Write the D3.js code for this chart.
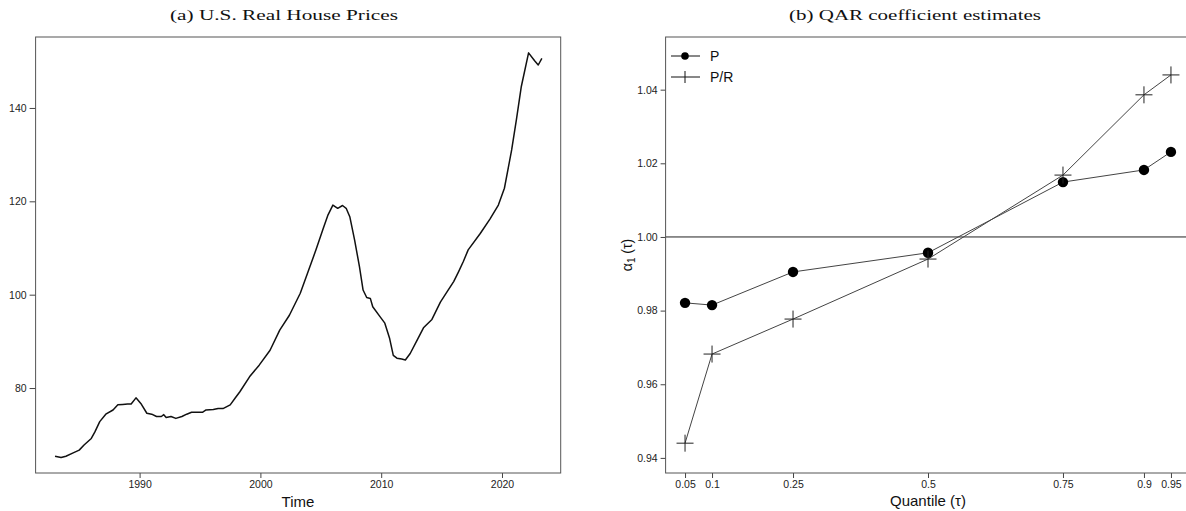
<!DOCTYPE html>
<html>
<head>
<meta charset="utf-8">
<script src="https://cdn.jsdelivr.net/npm/d3@7"></script>
<style>
  body { margin: 0; background: #fff; }
  svg { display: block; }
  .tick text { font-family: "Liberation Sans", Arial, sans-serif; font-size: 10.5px; fill: #222; }
  .tick line { stroke: #444; }
</style>
</head>
<body>
<div id="chart"></div>
<script>
// (a) real house price index
var years = [1983.0, 1983.5, 1983.9, 1984.5, 1985.0, 1985.4, 1986.0, 1986.3, 1986.7, 1987.2,
  1987.8, 1988.2, 1988.6, 1989.0, 1989.3, 1989.7, 1990.1, 1990.6, 1991.0, 1991.4,
  1991.8, 1992.0, 1992.2, 1992.6, 1993.0, 1993.5, 1993.9, 1994.3, 1995.2, 1995.5,
  1996.1, 1996.5, 1996.9, 1997.5, 1997.9, 1998.3, 1999.1, 1999.9, 2000.8, 2001.6,
  2002.4, 2003.3, 2003.9, 2004.6, 2005.2, 2005.6, 2006.0, 2006.4, 2006.8, 2007.1,
  2007.4, 2007.8, 2008.2, 2008.5, 2008.8, 2009.1, 2009.3, 2009.9, 2010.3, 2010.7,
  2011.0, 2011.3, 2011.7, 2012.0, 2012.4, 2012.9, 2013.5, 2014.2, 2014.9, 2015.5,
  2016.0, 2016.4, 2016.8, 2017.2, 2018.2, 2019.0, 2019.7, 2020.2, 2020.8, 2021.2,
  2021.6, 2022.2, 2022.7, 2023.0, 2023.3];
var prices = [65.4, 65.1, 65.4, 66.1, 66.7, 67.8, 69.2, 70.6, 72.8, 74.4,
  75.3, 76.4, 76.5, 76.6, 76.6, 77.9, 76.7, 74.6, 74.4, 73.9,
  73.9, 74.3, 73.7, 73.9, 73.5, 73.9, 74.4, 74.8, 74.8, 75.3,
  75.4, 75.6, 75.6, 76.4, 77.8, 79.2, 82.4, 84.9, 88.1, 92.4,
  95.6, 100.3, 104.6, 109.6, 114.2, 117.1, 119.2, 118.5, 119.1, 118.5,
  116.7, 111.7, 106.0, 101.0, 99.4, 99.2, 97.4, 95.3, 93.9, 90.6,
  87.0, 86.4, 86.2, 86.0, 87.4, 89.9, 92.9, 94.7, 98.4, 100.8,
  102.8, 104.9, 107.1, 109.6, 113.1, 116.2, 119.2, 122.8, 131.0, 137.6,
  144.6, 151.8, 150.1, 149.2, 150.6];
var yearTicks = [1990, 2000, 2010, 2020];
var priceTicks = [80, 100, 120, 140];

// (b) QAR alpha_1 estimates by quantile
var quantiles = [0.05, 0.1, 0.25, 0.5, 0.75, 0.9, 0.95];
var quantileLabels = ["0.05", "0.1", "0.25", "0.5", "0.75", "0.9", "0.95"];
var alphaP = [0.9821, 0.9815, 0.9905, 0.9957, 1.0149, 1.0182, 1.0231];
var alphaPR = [0.9440, 0.9682, 0.9777, 0.9940, 1.0168, 1.0386, 1.0440];
var alphaTicks = [0.94, 0.96, 0.98, 1.00, 1.02, 1.04];

var W = 1186, H = 511;
var svg = d3.select("#chart").append("svg").attr("width", W).attr("height", H);
var sans = "'Liberation Sans', Arial, sans-serif";
var serif = "'Liberation Serif', 'Times New Roman', serif";

// ---------- panel (a) ----------
var xa = d3.scaleLinear().domain([1981.39, 2024.86]).range([35.6, 560.7]);
var ya = d3.scaleLinear().domain([61.8, 155.2]).range([473, 37]);

var ga = svg.append("g");
ga.append("g").attr("transform", "translate(0,473)")
  .call(d3.axisBottom(xa).tickValues(yearTicks).tickFormat(d3.format("d")).tickSize(5).tickPadding(3))
  .call(function (g) { g.select(".domain").remove(); });
ga.append("g").attr("transform", "translate(35.6,0)")
  .call(d3.axisLeft(ya).tickValues(priceTicks).tickSize(6).tickPadding(3))
  .call(function (g) { g.select(".domain").remove(); });

ga.append("path")
  .datum(d3.range(years.length))
  .attr("fill", "none").attr("stroke", "#111").attr("stroke-width", 1.5)
  .attr("stroke-linejoin", "round")
  .attr("d", d3.line().x(function (i) { return xa(years[i]); }).y(function (i) { return ya(prices[i]); }));

ga.append("rect").attr("x", 35.6).attr("y", 37).attr("width", 560.7 - 35.6).attr("height", 473 - 37)
  .attr("fill", "none").attr("stroke", "#555").attr("stroke-width", 1);

ga.append("text").attr("x", 284).attr("y", 20).attr("text-anchor", "middle")
  .attr("font-family", serif).attr("font-size", 15).attr("fill", "#111")
  .attr("textLength", 228).attr("lengthAdjust", "spacingAndGlyphs")
  .text("(a) U.S. Real House Prices");
ga.append("text").attr("x", 298).attr("y", 507).attr("text-anchor", "middle")
  .attr("font-family", sans).attr("font-size", 15).attr("fill", "#111").text("Time");

// ---------- panel (b) ----------
var xb = d3.scaleLinear().domain([0.014, 0.986]).range([665.6, 1190.4]);
var yb = d3.scaleLinear().domain([0.9359, 1.0543]).range([473, 37]);

var gb = svg.append("g");
gb.append("g").attr("transform", "translate(0,473)")
  .call(d3.axisBottom(xb).tickValues(quantiles).tickFormat(function (d, i) { return quantileLabels[i]; }).tickSize(5).tickPadding(3))
  .call(function (g) { g.select(".domain").remove(); });
gb.append("g").attr("transform", "translate(665.6,0)")
  .call(d3.axisLeft(yb).tickValues(alphaTicks).tickFormat(d3.format(".2f")).tickSize(5).tickPadding(3))
  .call(function (g) { g.select(".domain").remove(); });

gb.append("line").attr("x1", 665.6).attr("x2", 1190).attr("y1", yb(1)).attr("y2", yb(1))
  .attr("stroke", "#222").attr("stroke-width", 1);

var lineB = function (vals) {
  return d3.line().x(function (i) { return xb(quantiles[i]); }).y(function (i) { return yb(vals[i]); })(d3.range(quantiles.length));
};
gb.append("path").attr("d", lineB(alphaP)).attr("fill", "none").attr("stroke", "#444").attr("stroke-width", 1);
gb.append("path").attr("d", lineB(alphaPR)).attr("fill", "none").attr("stroke", "#444").attr("stroke-width", 1);

gb.selectAll("circle.p").data(alphaP).enter().append("circle").attr("class", "p")
  .attr("cx", function (d, i) { return xb(quantiles[i]); }).attr("cy", function (d) { return yb(d); })
  .attr("r", 5.2).attr("fill", "#000");

var plus = function (g, cx, cy, s) {
  g.append("path").attr("d", "M" + (cx - s) + "," + cy + "H" + (cx + s) + "M" + cx + "," + (cy - s) + "V" + (cy + s))
    .attr("stroke", "#222").attr("stroke-width", 1).attr("fill", "none");
};
alphaPR.forEach(function (d, i) { plus(gb, xb(quantiles[i]), yb(d), 8.5); });

gb.append("rect").attr("x", 665.6).attr("y", 37).attr("width", 1190 - 665.6).attr("height", 473 - 37)
  .attr("fill", "none").attr("stroke", "#555").attr("stroke-width", 1);

// legend
var leg = gb.append("g");
leg.append("line").attr("x1", 671).attr("x2", 700).attr("y1", 56).attr("y2", 56).attr("stroke", "#111");
leg.append("circle").attr("cx", 685).attr("cy", 56).attr("r", 3.8).attr("fill", "#000");
leg.append("text").attr("x", 710).attr("y", 61).attr("font-family", sans).attr("font-size", 14).attr("fill", "#111").text("P");
leg.append("line").attr("x1", 671).attr("x2", 700).attr("y1", 77).attr("y2", 77).attr("stroke", "#111");
leg.append("line").attr("x1", 685).attr("x2", 685).attr("y1", 71).attr("y2", 83).attr("stroke", "#111");
leg.append("text").attr("x", 710).attr("y", 82).attr("font-family", sans).attr("font-size", 14).attr("fill", "#111").text("P/R");

gb.append("text").attr("x", 915).attr("y", 20).attr("text-anchor", "middle")
  .attr("font-family", serif).attr("font-size", 15).attr("fill", "#111")
  .attr("textLength", 252).attr("lengthAdjust", "spacingAndGlyphs")
  .text("(b) QAR coefficient estimates");
gb.append("text").attr("x", 928).attr("y", 506).attr("text-anchor", "middle")
  .attr("font-family", sans).attr("font-size", 15).attr("fill", "#111").text("Quantile (τ)");

var ylab = gb.append("text").attr("transform", "translate(632,255) rotate(-90)").attr("text-anchor", "middle")
  .attr("font-family", sans).attr("font-size", 14).attr("fill", "#111");
ylab.append("tspan").text("α");
ylab.append("tspan").attr("font-size", 10).attr("dy", 3).text("1");
ylab.append("tspan").attr("dy", -3).text(" (τ)");
</script>
</body>
</html>
